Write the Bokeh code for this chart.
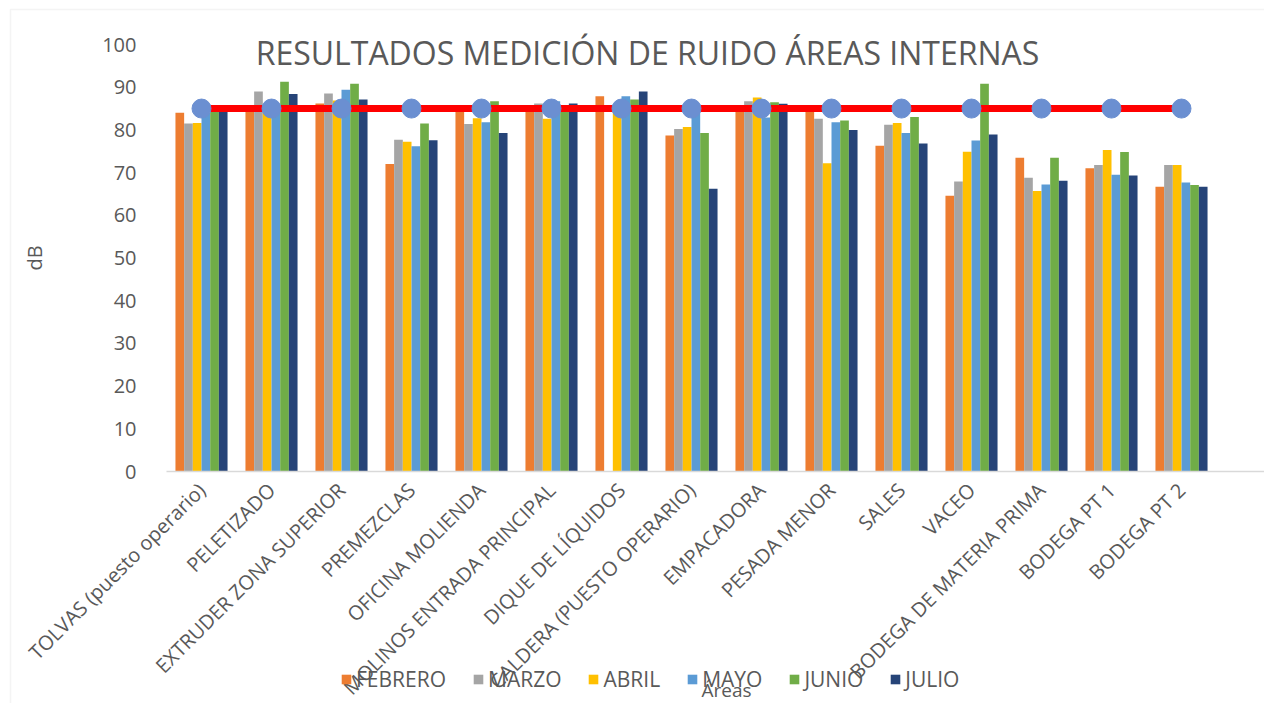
import math
from bokeh.plotting import figure
from bokeh.models import ColumnDataSource, Range1d, FixedTicker, Label, BoxAnnotation
from bokeh.transform import dodge
from bokeh.embed import file_html
from bokeh.resources import INLINE

nan = float("nan")

areas = ["TOLVAS (puesto operario)", "PELETIZADO", "EXTRUDER ZONA SUPERIOR", "PREMEZCLAS",
         "OFICINA MOLIENDA", "MOLINOS ENTRADA PRINCIPAL", "DIQUE DE LÍQUIDOS",
         "CALDERA (PUESTO OPERARIO)", "EMPACADORA", "PESADA MENOR", "SALES", "VACEO",
         "BODEGA DE MATERIA PRIMA", "BODEGA PT 1", "BODEGA PT 2"]

febrero = [84.0, 84.3, 86.2, 72.0, 84.3, 84.3, 87.9, 78.7, 85.2, 85.2, 76.3, 64.6, 73.5, 71.0, 66.7]
marzo = [81.5, 89.0, 88.5, 77.7, 81.4, 86.2, nan, 80.2, 86.7, 82.6, 81.2, 67.9, 68.8, 71.8, 71.8]
abril = [81.6, 84.0, 86.9, 77.2, 82.7, 82.6, 85.0, 80.7, 87.6, 72.2, 81.6, 74.9, 65.7, 75.3, 71.8]
mayo = [84.0, 84.6, 89.4, 76.2, 81.8, 86.7, 87.9, 85.3, 82.9, 81.8, 79.3, 77.5, 67.2, 69.5, 67.7]
junio = [85.0, 91.3, 90.8, 81.5, 86.7, 85.0, 87.1, 79.3, 86.5, 82.2, 83.0, 90.8, 73.5, 74.8, 67.1]
julio = [84.3, 88.4, 87.1, 77.6, 79.3, 86.2, 89.0, 66.2, 86.1, 80.0, 76.8, 78.9, 68.1, 69.3, 66.7]
limite = [85, 85, 85, 85, 85, 85, 85, 85, 85, 85, 85, 85, 85, 85, 85]

months = ["FEBRERO", "MARZO", "ABRIL", "MAYO", "JUNIO", "JULIO"]
series = [febrero, marzo, abril, mayo, junio, julio]
y_ticks = [0, 10, 20, 30, 40, 50, 60, 70, 80, 90, 100]

colors = ["#ED7D31", "#A5A5A5", "#FFC000", "#5B9BD5", "#70AD47", "#264478"]
FONT = "Open Sans"
TXT = "#595959"

# category slot centres (one unit per area)
xpos = [i + 0.5 for i in range(len(areas))]

data = {"xpos": xpos, "area": areas, "limite": limite}
for m, s in zip(months, series):
    data[m] = s
source = ColumnDataSource(data)

W, H = 1264, 703
PX_X = 70.0      # pixels per category
X0 = 166.0       # pixel of the category axis start
PX_Y = 4.27      # pixels per dB
Y0 = 471.0       # pixel of 0 dB (from top)

p = figure(width=W, height=H,
           x_range=Range1d(-X0 / PX_X, (W - X0) / PX_X),
           y_range=Range1d(-(H - Y0) / PX_Y, Y0 / PX_Y),
           output_backend="svg", toolbar_location=None, title=None,
           min_border_left=0, min_border_right=0, min_border_top=0, min_border_bottom=0)

bw = 0.124
for i, (m, c) in enumerate(zip(months, colors)):
    p.vbar(x=dodge("xpos", (i - 2.5) * bw), top=m, width=bw, source=source,
           fill_color=c, line_color=None, legend_label=m)

p.line(x="xpos", y="limite", source=source, line_color="#FF0000", line_width=7)
p.scatter(x="xpos", y="limite", source=source, size=19, fill_color="#6B8FD1", line_color="#6B8FD1")

# chart-area border (only its left and top edges fall inside the view)
p.add_layout(BoxAnnotation(left=-(X0 - 10) / PX_X, top=(Y0 - 9) / PX_Y, right=40, bottom=-200,
                           fill_alpha=0, line_color="#D9D9D9", line_width=1.5, level="underlay"))

p.xgrid.grid_line_color = None
p.ygrid.grid_line_color = None
p.outline_line_color = None
p.background_fill_color = "white"
p.border_fill_color = "white"

p.yaxis.fixed_location = 0
p.yaxis.ticker = FixedTicker(ticks=y_ticks)
p.yaxis.bounds = (0, 100)
p.yaxis.axis_line_color = None
p.yaxis.major_tick_line_color = None
p.yaxis.minor_tick_line_color = None
p.yaxis.major_label_standoff = 24
p.yaxis.major_label_text_font = FONT
p.yaxis.major_label_text_font_size = "20px"
p.yaxis.major_label_text_color = TXT
p.yaxis.axis_label = "dB"
p.yaxis.axis_label_text_font = FONT
p.yaxis.axis_label_text_font_size = "20px"
p.yaxis.axis_label_text_font_style = "normal"
p.yaxis.axis_label_text_color = TXT
p.yaxis.axis_label_standoff = 51

p.xaxis.fixed_location = 0
p.xaxis.ticker = FixedTicker(ticks=xpos)
p.xaxis.major_label_overrides = {x: a for x, a in zip(xpos, areas)}
p.xaxis.bounds = (0, (W - X0) / PX_X)
p.xaxis.axis_line_color = "#D9D9D9"
p.xaxis.axis_line_width = 1.5
p.xaxis.major_tick_line_color = None
p.xaxis.minor_tick_line_color = None
p.xaxis.major_label_orientation = math.pi / 4
p.xaxis.major_label_standoff = 9
p.xaxis.major_label_text_font = FONT
p.xaxis.major_label_text_font_size = "20px"
p.xaxis.major_label_text_color = TXT

title = Label(x=647, y=H - 52, x_units="screen", y_units="screen",
              text="RESULTADOS MEDICIÓN DE RUIDO ÁREAS INTERNAS",
              text_font=FONT, text_font_size="32px", text_color=TXT,
              text_align="center", text_baseline="middle")
p.add_layout(title)

xlabel = Label(x=726, y=1, x_units="screen", y_units="screen", text="Áreas",
               text_font=FONT, text_font_size="19px", text_color=TXT,
               text_align="center", text_baseline="bottom")
p.add_layout(xlabel)

lg = p.legend[0]
lg.location = (340, 10)
lg.orientation = "horizontal"
lg.background_fill_alpha = 0
lg.border_line_color = None
lg.padding = 0
lg.margin = 0
lg.spacing = 26
lg.glyph_width = 12
lg.glyph_height = 12
lg.label_standoff = 4
lg.label_text_font = FONT
lg.label_text_font_size = "21px"
lg.label_text_color = TXT

open("out.html", "w").write(file_html(p, INLINE))
